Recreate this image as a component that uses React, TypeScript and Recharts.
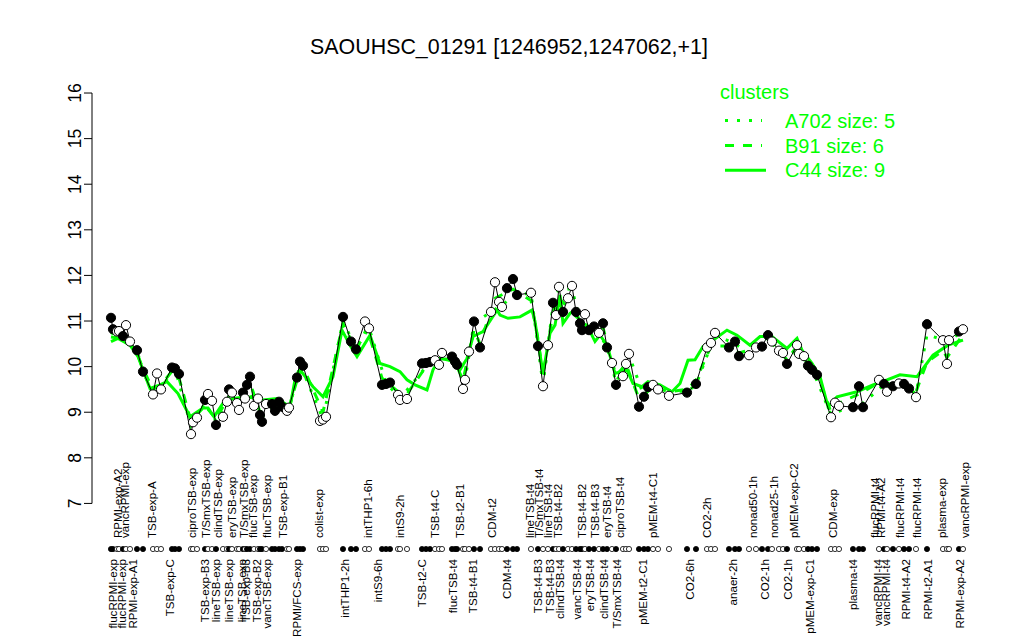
import React from "react";
import { ComposedChart, Line, Scatter, XAxis, YAxis, ReferenceLine } from "recharts";

const GREEN = "#00ff00";
const FONT = '"Liberation Sans", Arial, Helvetica, sans-serif';

// sample positions along the x axis, expression values, filled (1) or open (0) marker
const samplePos = [
  19, 21, 25, 27, 31, 34, 38, 45, 51, 61, 65, 69, 80, 83, 87, 99, 101, 105, 113, 116,
  120, 124, 131, 135, 137, 140, 145, 147, 151, 153, 155, 158, 162, 166, 168, 170, 174, 180, 183, 187,
  190, 195, 197, 205, 208, 211, 228, 231, 234, 251, 259, 264, 273, 277, 290, 294, 298, 306, 308, 315,
  330, 334, 338, 343, 347, 350, 360, 363, 365, 371, 373, 377, 382, 388, 399, 403, 407, 410, 415, 421,
  425, 439, 446, 451, 456, 461, 464, 467, 471, 476, 480, 484, 488, 490, 493, 497, 502, 507, 511, 515,
  520, 524, 531, 534, 537, 547, 552, 556, 561, 566, 577, 595, 604, 615, 619, 623, 637, 643, 647, 657,
  664, 670, 676, 680, 687, 691, 695, 705, 707, 712, 716, 720, 725, 739, 743, 747, 761, 767, 771, 787,
  792, 795, 801, 807, 812, 817, 824, 835, 851, 855, 857, 867, 871,
];
const sampleExpr = [
  11.07, 10.82, 10.77, 10.78, 10.67, 10.91, 10.55, 10.36, 9.89, 9.39, 9.85, 9.5, 9.98, 9.96, 9.84, 8.52, 8.78, 8.88, 9.27, 9.4,
  9.25, 8.72, 8.9, 9.23, 9.5, 9.43, 9.2, 9.05, 9.43, 9.3, 9.6, 9.78, 9.14, 9.3, 8.94, 8.79, 9.18, 9.18, 9.03, 9.23,
  9.12, 9.03, 9.1, 9.76, 10.11, 10.02, 8.81, 8.84, 8.9, 11.09, 10.55, 10.38, 10.99, 10.84, 9.6, 9.62, 9.65, 9.38, 9.27, 9.29,
  10.07, 10.08, 10.1, 10.14, 10.04, 10.3, 10.22, 10.11, 10.04, 9.51, 9.71, 10.33, 10.99, 10.42, 11.2, 11.85, 11.42, 11.31, 11.72, 11.92,
  11.57, 11.62, 10.45, 9.57, 10.47, 11.4, 11.13, 11.75, 11.2, 11.5, 11.77, 11.2, 10.95, 10.8, 11.15, 10.8, 10.88, 10.74, 10.95, 10.42,
  10.08, 9.6, 9.79, 10.06, 10.28, 9.12, 9.34, 9.55, 9.6, 9.5, 9.36, 9.43, 9.62, 10.42, 10.52, 10.74, 10.42, 10.55, 10.23, 10.25,
  10.42, 10.44, 10.69, 10.55, 10.35, 10.3, 10.06, 10.47, 10.28, 10.23, 10.02, 9.93, 9.82, 8.89, 9.21, 9.14, 9.11, 9.57, 9.11, 9.71,
  9.62, 9.45, 9.57, 9.63, 9.62, 9.52, 9.33, 10.93, 10.58, 10.06, 10.58, 10.77, 10.82,
];
const sampleFilled = [
  1, 1, 0, 0, 1, 0, 0, 1, 1, 0, 0, 0, 1, 1, 1, 0, 0, 0, 1, 0,
  0, 1, 0, 0, 1, 0, 0, 0, 1, 0, 1, 1, 0, 0, 1, 1, 0, 1, 1, 1,
  1, 0, 0, 1, 1, 1, 0, 0, 0, 1, 1, 1, 0, 0, 1, 1, 1, 0, 0, 0,
  1, 1, 1, 0, 0, 0, 1, 1, 1, 0, 0, 0, 1, 1, 0, 0, 0, 0, 1, 1,
  1, 0, 1, 0, 0, 1, 0, 0, 1, 0, 0, 1, 1, 1, 0, 1, 1, 0, 1, 1,
  0, 1, 0, 0, 0, 1, 1, 1, 0, 0, 0, 1, 1, 0, 0, 0, 1, 1, 1, 0,
  0, 1, 1, 0, 0, 0, 1, 0, 0, 0, 1, 1, 1, 0, 0, 0, 1, 1, 1, 0,
  1, 0, 1, 0, 1, 1, 0, 1, 0, 0, 0, 1, 0,
];

// cluster profiles
const c44Pos = [
  19, 26, 38, 46, 58, 68, 75, 86, 98, 111, 116, 122, 131, 141, 155, 165, 171, 185, 198, 203,
  208, 221, 231, 241, 250, 258, 265, 278, 288, 298, 308, 315, 323, 335, 341, 348, 358, 368, 375, 381,
  391, 405, 408, 416, 428, 440, 443, 451, 458, 463, 468, 471, 478, 483, 490, 495, 503, 508, 515, 523,
  535, 541, 550, 556, 568, 580, 588, 596, 603, 611, 621, 635, 645, 658, 668, 680, 695, 705, 710, 720,
  728, 736, 745, 765, 781, 795, 808, 825, 841, 856, 871,
];
const c44Val = [
  10.55, 10.62, 10.47, 10.22, 9.52, 9.6, 9.67, 9.41, 8.9, 9.09, 9.09, 8.9, 9.2, 9.3, 9.34, 9.3, 9.27, 9.3, 9.12, 9.71,
  9.93, 9.56, 9.34, 9.78, 10.8, 10.47, 10.22, 10.69, 10.07, 10.0, 9.89, 9.71, 9.6, 9.49, 9.93, 10.18, 10.14, 9.93, 10.18, 10.66,
  10.77, 11.24, 11.13, 11.06, 11.09, 11.24, 10.99, 9.85, 10.73, 10.91, 11.57, 10.95, 11.17, 11.24, 10.88, 10.91, 10.55, 10.69, 10.47, 9.85,
  9.93, 9.63, 9.56, 9.67, 9.6, 9.45, 9.63, 10.14, 10.15, 10.44, 10.58, 10.8, 10.69, 10.47, 10.66, 10.66, 10.4, 10.62, 10.36, 10.07,
  9.78, 9.12, 9.34, 9.45, 9.6, 9.71, 9.82, 9.78, 10.25, 10.47, 10.58,
];
const b91Pos = [
  19, 34, 45, 51, 61, 69, 80, 87, 99, 113, 124, 137, 151, 158, 168, 183, 197, 205, 211, 231,
  251, 264, 275, 290, 306, 315, 334, 350, 363, 371, 382, 388, 403, 421, 439, 446, 451, 461, 467, 476,
  484, 497, 511, 524, 534, 547, 561, 577, 595, 604, 619, 637, 647, 664, 676, 695, 705, 716, 725, 739,
  747, 767, 787, 807, 824, 835, 851, 855, 871,
];
const b91Val = [
  10.65, 10.6, 10.3, 9.95, 9.5, 9.6, 9.9, 9.75, 8.8, 9.15, 8.85, 9.35, 9.45, 9.65, 9.0, 9.1, 9.1, 9.7, 10.0, 9.0,
  10.95, 10.35, 10.85, 9.75, 9.45, 9.4, 10.0, 10.2, 10.1, 9.7, 10.8, 10.5, 11.5, 11.7, 11.45, 10.6, 9.8, 11.2, 11.5, 11.3,
  11.1, 10.85, 10.85, 9.8, 10.05, 9.3, 9.55, 9.45, 9.5, 9.7, 10.45, 10.45, 10.3, 10.4, 10.6, 10.15, 10.45, 10.05, 9.85, 9.0,
  9.2, 9.4, 9.65, 9.6, 9.45, 10.1, 10.35, 10.2, 10.7,
];
const a702Pos = [
  19, 31, 45, 51, 61, 69, 83, 99, 113, 124, 140, 155, 170, 187, 197, 208, 231, 251, 264, 277,
  294, 308, 338, 350, 365, 373, 382, 399, 410, 425, 439, 446, 451, 461, 467, 480, 490, 502, 515, 524,
  537, 552, 566, 595, 604, 623, 643, 657, 676, 691, 707, 720, 739, 761, 771, 792, 812, 824, 835, 857,
  871,
];
const a702Val = [
  10.75, 10.6, 10.35, 9.9, 9.4, 9.55, 9.95, 8.7, 9.2, 8.8, 9.4, 9.55, 8.9, 9.2, 9.05, 10.05, 8.85, 11.0, 10.4, 10.85,
  9.65, 9.3, 10.1, 10.25, 10.05, 9.7, 10.95, 11.2, 11.35, 11.6, 11.6, 10.45, 9.6, 11.35, 11.7, 11.7, 10.85, 10.85, 10.45, 9.65,
  10.25, 9.35, 9.5, 9.45, 9.6, 10.7, 10.5, 10.3, 10.65, 10.3, 10.3, 9.95, 8.95, 9.15, 9.2, 9.6, 9.6, 9.4, 10.7, 10.55,
  10.8,
];

// condition labels above and below the rug
const upperNames = [
  "RPMI-exp-A2", "vancRPMI-exp", "TSB-exp-A", "ciproTSB-exp", "T/SmxTSB-exp", "clindTSB-exp", "eryTSB-exp",
  "T/SmxTSB-exp", "flucTSB-exp", "flucTSB-exp", "TSB-exp-B1", "colist-exp", "intTHP1-6h", "intS9-2h",
  "TSB-t4-C", "TSB-t2-B1", "CDM-t2", "lineTSB-t4", "T/SmxTSB-t4", "lineTSB-t4", "TSB-t4-B2", "TSB-t4-B2",
  "TSB-t4-B3", "eryTSB-t4", "ciproTSB-t4", "pMEM-t4-C1", "CO2-2h", "nonad50-1h", "nonad25-1h",
  "pMEM-exp-C2", "CDM-exp", "flucRPMI-t4", "RPMI-t4-A2", "flucRPMI-t4", "flucRPMI-t4", "plasma-exp",
  "vancRPMI-exp",
];
const upperPos = [
  26, 33, 60, 100, 114, 126, 140, 152, 161, 175, 191, 227, 276, 308, 343, 368, 400, 438, 447, 456,
  466, 490, 503, 515, 528, 561, 615, 661, 682, 702, 741, 783, 789, 808, 825, 850, 873,
];
const lowerNames = [
  "flucRPMI-exp", "flucRPMI-exp", "RPMI-exp-A1", "TSB-exp-C", "TSB-exp-B3", "lineTSB-exp", "lineTSB-exp",
  "lineTSB-exp", "TSB-exp-B3", "TSB-exp-B2", "vancTSB-exp", "RPMI/FCS-exp", "intTHP1-2h", "intS9-6h",
  "TSB-t2-C", "flucTSB-t4", "TSB-t4-B1", "CDM-t4", "TSB-t4-B3", "TSB-t4-B3", "clindTSB-t4", "vancTSB-t4",
  "eryTSB-t4", "clindTSB-t4", "T/SmxTSB-t4", "pMEM-t2-C1", "CO2-6h", "anaer-2h", "CO2-1h", "CO2-1h",
  "pMEM-exp-C1", "plasma-t4", "vancRPMI-t4", "vancRPMI-t4", "RPMI-t4-A2", "RPMI-t2-A1", "RPMI-exp-A2",
];
const lowerPos = [
  21, 30, 41, 78, 113, 124, 137, 150, 154, 165, 175, 205, 253, 286, 330, 361, 381, 415, 446, 458,
  468, 485, 498, 512, 525, 551, 598, 641, 673, 696, 718, 761, 786, 794, 814, 836, 868,
];

const yTicks = [7, 8, 9, 10, 11, 12, 13, 14, 15, 16];
const RUG = 6;
const AXIS_X = 92;
const LABEL_SIZE = 11.6;

const samples = samplePos.map((pos, i) => ({ pos, expr: sampleExpr[i], filled: sampleFilled[i], rug: RUG }));
const c44 = c44Pos.map((pos, i) => ({ pos, v: c44Val[i] }));
const b91 = b91Pos.map((pos, i) => ({ pos, v: b91Val[i] }));
const a702 = a702Pos.map((pos, i) => ({ pos, v: a702Val[i] }));
const upper = upperPos.map((pos, i) => ({ pos, rug: RUG, name: upperNames[i] }));
const lower = lowerPos.map((pos, i) => ({ pos, rug: RUG, name: lowerNames[i] }));

const YTick = (props: any) => {
  const { y, payload } = props;
  const lx = AXIS_X - 17;
  return (
    <g>
      <line x1={AXIS_X - 8} x2={AXIS_X} y1={y} y2={y} stroke="#000" />
      <text x={lx} y={y} dy="0.35em" textAnchor="middle" fontSize={17.5} fill="#000"
        transform={`rotate(-90 ${lx} ${y})`}>{payload.value}</text>
    </g>
  );
};

const PointDot = (props: any) => {
  const { cx, cy, payload, index } = props;
  return <circle key={index} cx={cx} cy={cy} r={4.6} stroke="#000" strokeWidth={1} fill={payload.filled ? "#000" : "#fff"} />;
};

const RugDot = (props: any) => {
  const { cx, cy, payload } = props;
  return <circle cx={cx} cy={cy} r={2.6} stroke="#000" strokeWidth={0.8} fill={payload.filled ? "#000" : "#fff"} />;
};

const UpperLabel = (props: any) => {
  const { cx, cy, payload } = props;
  const ty = cy - 11;
  return (
    <text x={cx} y={ty} dy="0.35em" textAnchor="start" fontSize={LABEL_SIZE} fill="#000"
      transform={`rotate(-90 ${cx} ${ty})`}>{payload.name}</text>
  );
};

const LowerLabel = (props: any) => {
  const { cx, cy, payload } = props;
  const ty = cy + 10;
  return (
    <text x={cx} y={ty} dy="0.35em" textAnchor="end" fontSize={LABEL_SIZE} fill="#000"
      transform={`rotate(-90 ${cx} ${ty})`}>{payload.name}</text>
  );
};

export default function App() {
  return (
    <div style={{ position: "absolute", left: 0, top: 0, width: 1024, height: 640, fontFamily: FONT, background: "#fff" }}>
      <ComposedChart width={1024} height={640} margin={{ top: 76.6, right: 48, bottom: 0, left: 0 }}>
        <XAxis type="number" dataKey="pos" domain={[0, 884]} hide />
        <YAxis type="number" domain={[4.005, 16.36]} ticks={yTicks} interval={0} width={AXIS_X}
          axisLine={false} tickLine={false} tick={YTick} />
        <ReferenceLine segment={[{ x: 0, y: 7 }, { x: 0, y: 16 }]} stroke="#000" strokeWidth={1} ifOverflow="visible" />
        <Line data={a702} dataKey="v" stroke={GREEN} strokeWidth={3} strokeDasharray="3 9" dot={false} isAnimationActive={false} />
        <Line data={b91} dataKey="v" stroke={GREEN} strokeWidth={3} strokeDasharray="9 9" dot={false} isAnimationActive={false} />
        <Line data={c44} dataKey="v" stroke={GREEN} strokeWidth={3} dot={false} isAnimationActive={false} />
        <Line data={samples} dataKey="expr" stroke="#000" strokeWidth={1} dot={PointDot} isAnimationActive={false} />
        <Scatter data={samples} dataKey="rug" shape={RugDot} isAnimationActive={false} />
        <Scatter data={upper} dataKey="rug" shape={UpperLabel} isAnimationActive={false} />
        <Scatter data={lower} dataKey="rug" shape={LowerLabel} isAnimationActive={false} />
      </ComposedChart>
      <svg width={1024} height={640} style={{ position: "absolute", left: 0, top: 0, pointerEvents: "none" }}>
        <text x={509} y={47} dy="0.35em" textAnchor="middle" fontSize={21.4} fill="#000">
          SAOUHSC_01291 [1246952,1247062,+1]
        </text>
        <text x={720} y={92} dy="0.35em" fontSize={20} fill={GREEN}>clusters</text>
        <line x1={725} x2={762} y1={120.5} y2={120.5} stroke={GREEN} strokeWidth={3} strokeDasharray="3 9" />
        <text x={785} y={120.5} dy="0.35em" fontSize={20} fill={GREEN}>A702 size: 5</text>
        <line x1={725} x2={762} y1={145.5} y2={145.5} stroke={GREEN} strokeWidth={3} strokeDasharray="9 9" />
        <text x={785} y={145.5} dy="0.35em" fontSize={20} fill={GREEN}>B91 size: 6</text>
        <line x1={725} x2={766} y1={170.3} y2={170.3} stroke={GREEN} strokeWidth={3} />
        <text x={785} y={170.3} dy="0.35em" fontSize={20} fill={GREEN}>C44 size: 9</text>
      </svg>
    </div>
  );
}
